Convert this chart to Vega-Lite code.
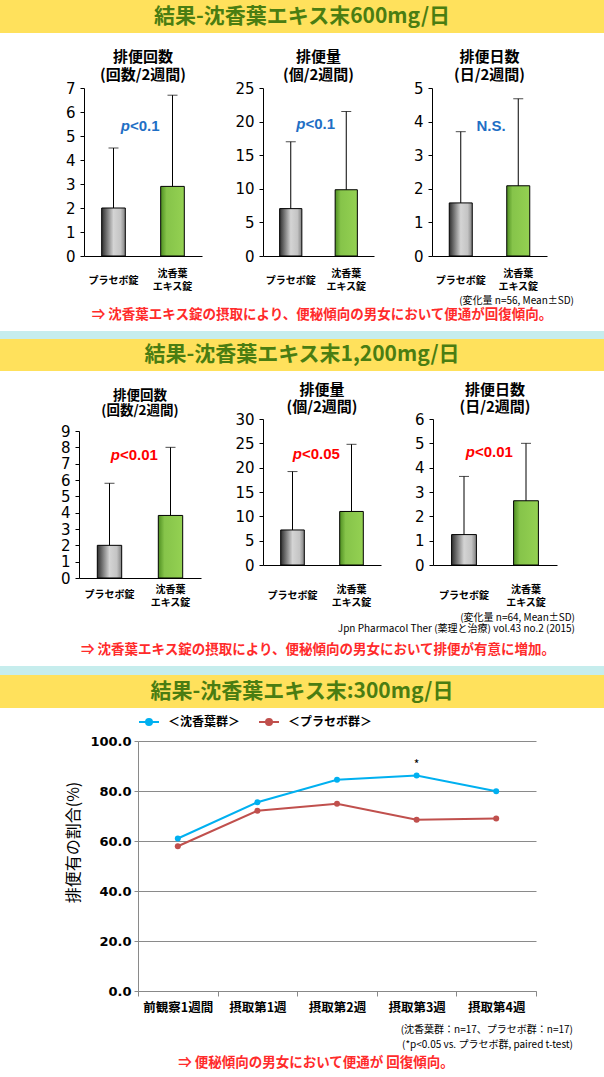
{
 "$schema": "https://vega.github.io/schema/vega-lite/v6.json",
 "background": "#ffffff",
 "padding": 0,
 "spacing": 0,
 "resolve": {"legend": {"color": "independent"}},
 "config": {
  "view": {"stroke": null},
  "axisY": {"grid": false, "title": null, "domainColor": "#000", "tickColor": "#000", "tickSize": 4, "labelFont": "DejaVu Sans", "labelFontSize": 15, "labelColor": "#000", "labelPadding": 5, "labelOverlap": false, "labelFlush": false},
  "axisX": {"grid": false, "title": null, "labelAngle": 0, "domainColor": "#000", "ticks": false, "labelFont": "Noto Sans CJK JP", "labelFontSize": 10, "labelFontWeight": "bold", "labelColor": "#000", "labelBaseline": "middle", "labelLineHeight": 13},
  "title": {"font": "Noto Sans CJK JP", "fontSize": 15, "fontWeight": "bold", "color": "#000", "lineHeight": 18, "offset": -2, "frame": "group", "anchor": "middle"},
  "text": {"font": "Noto Sans CJK JP"}
 },
 "datasets": {
  "bars": [
   {"panel": "A1", "group": "プラセボ錠", "mean": 2.0, "upper": 4.5},
   {"panel": "A1", "group": "沈香葉エキス錠", "mean": 2.9, "upper": 6.7},
   {"panel": "A2", "group": "プラセボ錠", "mean": 7.05, "upper": 17.0},
   {"panel": "A2", "group": "沈香葉エキス錠", "mean": 9.86, "upper": 21.5},
   {"panel": "A3", "group": "プラセボ錠", "mean": 1.58, "upper": 3.7},
   {"panel": "A3", "group": "沈香葉エキス錠", "mean": 2.09, "upper": 4.68},
   {"panel": "B1", "group": "プラセボ錠", "mean": 2.0, "upper": 5.8},
   {"panel": "B1", "group": "沈香葉エキス錠", "mean": 3.83, "upper": 8.0},
   {"panel": "B2", "group": "プラセボ錠", "mean": 7.2, "upper": 19.2},
   {"panel": "B2", "group": "沈香葉エキス錠", "mean": 11.0, "upper": 24.8},
   {"panel": "B3", "group": "プラセボ錠", "mean": 1.25, "upper": 3.64},
   {"panel": "B3", "group": "沈香葉エキス錠", "mean": 2.64, "upper": 5.0}
  ],
  "ann": [
   {"panel": "A1", "pre": "p", "label": "<0.1"},
   {"panel": "A2", "pre": "p", "label": "<0.1"},
   {"panel": "A3", "pre": "", "label": "N.S."},
   {"panel": "B1", "pre": "p", "label": "<0.01"},
   {"panel": "B2", "pre": "p", "label": "<0.05"},
   {"panel": "B3", "pre": "p", "label": "<0.01"}
  ],
  "line": [
   {"week": "前観察1週間", "group": "＜沈香葉群＞", "pct": 61.0},
   {"week": "摂取第1週", "group": "＜沈香葉群＞", "pct": 75.5},
   {"week": "摂取第2週", "group": "＜沈香葉群＞", "pct": 84.5},
   {"week": "摂取第3週", "group": "＜沈香葉群＞", "pct": 86.2, "sig": "*"},
   {"week": "摂取第4週", "group": "＜沈香葉群＞", "pct": 79.9},
   {"week": "前観察1週間", "group": "＜プラセボ群＞", "pct": 57.9},
   {"week": "摂取第1週", "group": "＜プラセボ群＞", "pct": 72.1},
   {"week": "摂取第2週", "group": "＜プラセボ群＞", "pct": 74.9},
   {"week": "摂取第3週", "group": "＜プラセボ群＞", "pct": 68.5},
   {"week": "摂取第4週", "group": "＜プラセボ群＞", "pct": 69.0}
  ]
 },
 "vconcat": [
  {"width": 604, "height": 33, "view": {"fill": "#ffe15c"},
   "data": {"values": [{"t": "結果-沈香葉エキス末600mg/日"}]},
   "mark": {"type": "text", "font": "Noto Sans CJK JP", "fontSize": 21, "fontWeight": "bold", "color": "#4a7d12", "baseline": "middle"},
   "encoding": {"text": {"field": "t"}}},
  {"width": 604, "height": 17, "data": {"values": []}, "mark": "point"},
  {"hconcat": [
    {"width": 65, "height": 1, "data": {"values": []}, "mark": "point"},
    {"width": 118, "height": 168,
     "title": {"text": ["排便回数", "(回数/2週間)"]},
     "layer": [
      {"data": {"name": "bars"}, "transform": [{"filter": "datum.panel == 'A1'"}],
       "encoding": {
        "x": {"field": "group", "type": "nominal", "sort": ["プラセボ錠", "沈香葉エキス錠"], "scale": {"paddingInner": 0, "paddingOuter": 0}, "axis": {"labelPadding": {"condition": {"test": "datum.value == 'プラセボ錠'", "value": 24}, "value": 17}, "labelExpr": "datum.value == '沈香葉エキス錠' ? ['沈香葉', 'エキス錠'] : datum.value"}},
        "y": {"field": "mean", "type": "quantitative", "scale": {"domain": [0, 7], "nice": false}, "axis": {"values": [0, 1, 2, 3, 4, 5, 6, 7]}}
       },
       "layer": [
        {"mark": {"type": "bar", "width": {"band": 0.4}, "stroke": "#000", "strokeWidth": 1},
         "encoding": {"fill": {"condition": {"test": "datum.group == 'プラセボ錠'", "value": {"gradient": "linear", "x1": 0, "x2": 1, "y1": 0, "y2": 0, "stops": [{"offset": 0, "color": "#2e2e2e"}, {"offset": 0.5, "color": "#d4d4d4"}, {"offset": 0.8, "color": "#c4c4c4"}, {"offset": 1, "color": "#808080"}]}}, "value": {"gradient": "linear", "x1": 0, "x2": 1, "y1": 0, "y2": 0, "stops": [{"offset": 0, "color": "#4f8f22"}, {"offset": 0.25, "color": "#86c44a"}, {"offset": 1, "color": "#94d152"}]}}}},
        {"mark": {"type": "rule", "color": "#000", "strokeWidth": 1}, "encoding": {"y2": {"field": "upper"}}},
        {"mark": {"type": "tick", "color": "#000", "thickness": 1, "size": 10}, "encoding": {"y": {"field": "upper", "type": "quantitative"}}}
       ]},
      {"data": {"name": "ann"}, "transform": [{"filter": "datum.panel == 'A1'"}], "mark": {"type": "text", "align": "right", "baseline": "middle", "dx": -13, "dy": -46, "font": "Liberation Sans", "fontSize": 15, "fontWeight": "bold", "fontStyle": "italic", "color": "#1f6fc5"}, "encoding": {"text": {"field": "pre"}}},
      {"data": {"name": "ann"}, "transform": [{"filter": "datum.panel == 'A1'"}], "mark": {"type": "text", "align": "left", "baseline": "middle", "dx": -13, "dy": -46, "font": "Liberation Sans", "fontSize": 15, "fontWeight": "bold", "color": "#1f6fc5"}, "encoding": {"text": {"field": "label"}}}
     ]},
    {"width": 32, "height": 1, "data": {"values": []}, "mark": "point"},
    {"width": 111, "height": 168,
     "title": {"text": ["排便量", "(個/2週間)"]},
     "layer": [
      {"data": {"name": "bars"}, "transform": [{"filter": "datum.panel == 'A2'"}],
       "encoding": {
        "x": {"field": "group", "type": "nominal", "sort": ["プラセボ錠", "沈香葉エキス錠"], "scale": {"paddingInner": 0, "paddingOuter": 0}, "axis": {"labelPadding": {"condition": {"test": "datum.value == 'プラセボ錠'", "value": 24}, "value": 17}, "labelExpr": "datum.value == '沈香葉エキス錠' ? ['沈香葉', 'エキス錠'] : datum.value"}},
        "y": {"field": "mean", "type": "quantitative", "scale": {"domain": [0, 25], "nice": false}, "axis": {"values": [0, 5, 10, 15, 20, 25]}}
       },
       "layer": [
        {"mark": {"type": "bar", "width": {"band": 0.4}, "stroke": "#000", "strokeWidth": 1},
         "encoding": {"fill": {"condition": {"test": "datum.group == 'プラセボ錠'", "value": {"gradient": "linear", "x1": 0, "x2": 1, "y1": 0, "y2": 0, "stops": [{"offset": 0, "color": "#2e2e2e"}, {"offset": 0.5, "color": "#d4d4d4"}, {"offset": 0.8, "color": "#c4c4c4"}, {"offset": 1, "color": "#808080"}]}}, "value": {"gradient": "linear", "x1": 0, "x2": 1, "y1": 0, "y2": 0, "stops": [{"offset": 0, "color": "#4f8f22"}, {"offset": 0.25, "color": "#86c44a"}, {"offset": 1, "color": "#94d152"}]}}}},
        {"mark": {"type": "rule", "color": "#000", "strokeWidth": 1}, "encoding": {"y2": {"field": "upper"}}},
        {"mark": {"type": "tick", "color": "#000", "thickness": 1, "size": 10}, "encoding": {"y": {"field": "upper", "type": "quantitative"}}}
       ]},
      {"data": {"name": "ann"}, "transform": [{"filter": "datum.panel == 'A2'"}], "mark": {"type": "text", "align": "right", "baseline": "middle", "dx": -13, "dy": -48, "font": "Liberation Sans", "fontSize": 15, "fontWeight": "bold", "fontStyle": "italic", "color": "#1f6fc5"}, "encoding": {"text": {"field": "pre"}}},
      {"data": {"name": "ann"}, "transform": [{"filter": "datum.panel == 'A2'"}], "mark": {"type": "text", "align": "left", "baseline": "middle", "dx": -13, "dy": -48, "font": "Liberation Sans", "fontSize": 15, "fontWeight": "bold", "color": "#1f6fc5"}, "encoding": {"text": {"field": "label"}}}
     ]},
    {"width": 39, "height": 1, "data": {"values": []}, "mark": "point"},
    {"width": 115, "height": 168,
     "title": {"text": ["排便日数", "(日/2週間)"]},
     "layer": [
      {"data": {"name": "bars"}, "transform": [{"filter": "datum.panel == 'A3'"}],
       "encoding": {
        "x": {"field": "group", "type": "nominal", "sort": ["プラセボ錠", "沈香葉エキス錠"], "scale": {"paddingInner": 0, "paddingOuter": 0}, "axis": {"labelPadding": {"condition": {"test": "datum.value == 'プラセボ錠'", "value": 24}, "value": 17}, "labelExpr": "datum.value == '沈香葉エキス錠' ? ['沈香葉', 'エキス錠'] : datum.value"}},
        "y": {"field": "mean", "type": "quantitative", "scale": {"domain": [0, 5], "nice": false}, "axis": {"values": [0, 1, 2, 3, 4, 5]}}
       },
       "layer": [
        {"mark": {"type": "bar", "width": {"band": 0.4}, "stroke": "#000", "strokeWidth": 1},
         "encoding": {"fill": {"condition": {"test": "datum.group == 'プラセボ錠'", "value": {"gradient": "linear", "x1": 0, "x2": 1, "y1": 0, "y2": 0, "stops": [{"offset": 0, "color": "#2e2e2e"}, {"offset": 0.5, "color": "#d4d4d4"}, {"offset": 0.8, "color": "#c4c4c4"}, {"offset": 1, "color": "#808080"}]}}, "value": {"gradient": "linear", "x1": 0, "x2": 1, "y1": 0, "y2": 0, "stops": [{"offset": 0, "color": "#4f8f22"}, {"offset": 0.25, "color": "#86c44a"}, {"offset": 1, "color": "#94d152"}]}}}},
        {"mark": {"type": "rule", "color": "#000", "strokeWidth": 1}, "encoding": {"y2": {"field": "upper"}}},
        {"mark": {"type": "tick", "color": "#000", "thickness": 1, "size": 10}, "encoding": {"y": {"field": "upper", "type": "quantitative"}}}
       ]},
      {"data": {"name": "ann"}, "transform": [{"filter": "datum.panel == 'A3'"}], "mark": {"type": "text", "align": "right", "baseline": "middle", "dx": -13, "dy": -46, "font": "Liberation Sans", "fontSize": 15, "fontWeight": "bold", "fontStyle": "italic", "color": "#1f6fc5"}, "encoding": {"text": {"field": "pre"}}},
      {"data": {"name": "ann"}, "transform": [{"filter": "datum.panel == 'A3'"}], "mark": {"type": "text", "align": "left", "baseline": "middle", "dx": -13, "dy": -46, "font": "Liberation Sans", "fontSize": 15, "fontWeight": "bold", "color": "#1f6fc5"}, "encoding": {"text": {"field": "label"}}}
     ]}
   ], "spacing": 0},
  {"width": 604, "height": 40,
   "layer": [
    {"data": {"values": [{"t": "(変化量 n=56, Mean±SD)"}]}, "mark": {"type": "text", "align": "right", "baseline": "middle", "dx": 272, "dy": -10, "fontSize": 10, "color": "#000"}, "encoding": {"text": {"field": "t"}}},
    {"data": {"values": [{"t": "⇒ 沈香葉エキス錠の摂取により、便秘傾向の男女において便通が回復傾向。"}]}, "mark": {"type": "text", "align": "center", "baseline": "middle", "dx": 20, "dy": 4, "fontSize": 13.5, "fontWeight": "bold", "color": "#ff2b2b"}, "encoding": {"text": {"field": "t"}}}
   ]},
  {"width": 604, "height": 8, "view": {"fill": "#c6eded"}, "data": {"values": []}, "mark": "point"},
  {"width": 604, "height": 32, "view": {"fill": "#ffe15c"},
   "data": {"values": [{"t": "結果-沈香葉エキス末1,200mg/日"}]},
   "mark": {"type": "text", "font": "Noto Sans CJK JP", "fontSize": 21, "fontWeight": "bold", "color": "#4a7d12", "baseline": "middle"},
   "encoding": {"text": {"field": "t"}}},
  {"width": 604, "height": 12, "data": {"values": []}, "mark": "point"},
  {"hconcat": [
    {"width": 60, "height": 1, "data": {"values": []}, "mark": "point"},
    {"width": 122, "height": 159,
     "title": {"text": ["排便回数", "(回数/2週間)"], "fontSize": 13.5, "lineHeight": 14.5, "offset": 2},
     "layer": [
      {"data": {"name": "bars"}, "transform": [{"filter": "datum.panel == 'B1'"}],
       "encoding": {
        "x": {"field": "group", "type": "nominal", "sort": ["プラセボ錠", "沈香葉エキス錠"], "scale": {"paddingInner": 0, "paddingOuter": 0}, "axis": {"labelPadding": {"condition": {"test": "datum.value == 'プラセボ錠'", "value": 16}, "value": 11}, "labelExpr": "datum.value == '沈香葉エキス錠' ? ['沈香葉', 'エキス錠'] : datum.value"}},
        "y": {"field": "mean", "type": "quantitative", "scale": {"domain": [0, 9], "nice": false, "range": [159, 12]}, "axis": {"values": [0, 1, 2, 3, 4, 5, 6, 7, 8, 9]}}
       },
       "layer": [
        {"mark": {"type": "bar", "width": {"band": 0.4}, "stroke": "#000", "strokeWidth": 1},
         "encoding": {"fill": {"condition": {"test": "datum.group == 'プラセボ錠'", "value": {"gradient": "linear", "x1": 0, "x2": 1, "y1": 0, "y2": 0, "stops": [{"offset": 0, "color": "#2e2e2e"}, {"offset": 0.5, "color": "#d4d4d4"}, {"offset": 0.8, "color": "#c4c4c4"}, {"offset": 1, "color": "#808080"}]}}, "value": {"gradient": "linear", "x1": 0, "x2": 1, "y1": 0, "y2": 0, "stops": [{"offset": 0, "color": "#4f8f22"}, {"offset": 0.25, "color": "#86c44a"}, {"offset": 1, "color": "#94d152"}]}}}},
        {"mark": {"type": "rule", "color": "#000", "strokeWidth": 1}, "encoding": {"y2": {"field": "upper"}}},
        {"mark": {"type": "tick", "color": "#000", "thickness": 1, "size": 10}, "encoding": {"y": {"field": "upper", "type": "quantitative"}}}
       ]},
      {"data": {"name": "ann"}, "transform": [{"filter": "datum.panel == 'B1'"}], "mark": {"type": "text", "align": "right", "baseline": "middle", "dx": -20, "dy": -44, "font": "Liberation Sans", "fontSize": 15, "fontWeight": "bold", "fontStyle": "italic", "color": "#ff0000"}, "encoding": {"text": {"field": "pre"}}},
      {"data": {"name": "ann"}, "transform": [{"filter": "datum.panel == 'B1'"}], "mark": {"type": "text", "align": "left", "baseline": "middle", "dx": -20, "dy": -44, "font": "Liberation Sans", "fontSize": 15, "fontWeight": "bold", "color": "#ff0000"}, "encoding": {"text": {"field": "label"}}}
     ]},
    {"width": 33, "height": 1, "data": {"values": []}, "mark": "point"},
    {"width": 118, "height": 146,
     "title": {"text": ["排便量", "(個/2週間)"], "lineHeight": 17, "offset": -3},
     "layer": [
      {"data": {"name": "bars"}, "transform": [{"filter": "datum.panel == 'B2'"}],
       "encoding": {
        "x": {"field": "group", "type": "nominal", "sort": ["プラセボ錠", "沈香葉エキス錠"], "scale": {"paddingInner": 0, "paddingOuter": 0}, "axis": {"labelPadding": {"condition": {"test": "datum.value == 'プラセボ錠'", "value": 30}, "value": 24}, "labelExpr": "datum.value == '沈香葉エキス錠' ? ['沈香葉', 'エキス錠'] : datum.value"}},
        "y": {"field": "mean", "type": "quantitative", "scale": {"domain": [0, 30], "nice": false}, "axis": {"values": [0, 5, 10, 15, 20, 25, 30]}}
       },
       "layer": [
        {"mark": {"type": "bar", "width": {"band": 0.4}, "stroke": "#000", "strokeWidth": 1},
         "encoding": {"fill": {"condition": {"test": "datum.group == 'プラセボ錠'", "value": {"gradient": "linear", "x1": 0, "x2": 1, "y1": 0, "y2": 0, "stops": [{"offset": 0, "color": "#2e2e2e"}, {"offset": 0.5, "color": "#d4d4d4"}, {"offset": 0.8, "color": "#c4c4c4"}, {"offset": 1, "color": "#808080"}]}}, "value": {"gradient": "linear", "x1": 0, "x2": 1, "y1": 0, "y2": 0, "stops": [{"offset": 0, "color": "#4f8f22"}, {"offset": 0.25, "color": "#86c44a"}, {"offset": 1, "color": "#94d152"}]}}}},
        {"mark": {"type": "rule", "color": "#000", "strokeWidth": 1}, "encoding": {"y2": {"field": "upper"}}},
        {"mark": {"type": "tick", "color": "#000", "thickness": 1, "size": 10}, "encoding": {"y": {"field": "upper", "type": "quantitative"}}}
       ]},
      {"data": {"name": "ann"}, "transform": [{"filter": "datum.panel == 'B2'"}], "mark": {"type": "text", "align": "right", "baseline": "middle", "dx": -20, "dy": -38, "font": "Liberation Sans", "fontSize": 15, "fontWeight": "bold", "fontStyle": "italic", "color": "#ff0000"}, "encoding": {"text": {"field": "pre"}}},
      {"data": {"name": "ann"}, "transform": [{"filter": "datum.panel == 'B2'"}], "mark": {"type": "text", "align": "left", "baseline": "middle", "dx": -20, "dy": -38, "font": "Liberation Sans", "fontSize": 15, "fontWeight": "bold", "color": "#ff0000"}, "encoding": {"text": {"field": "label"}}}
     ]},
    {"width": 33, "height": 1, "data": {"values": []}, "mark": "point"},
    {"width": 124, "height": 146,
     "title": {"text": ["排便日数", "(日/2週間)"], "lineHeight": 17, "offset": -3},
     "layer": [
      {"data": {"name": "bars"}, "transform": [{"filter": "datum.panel == 'B3'"}],
       "encoding": {
        "x": {"field": "group", "type": "nominal", "sort": ["プラセボ錠", "沈香葉エキス錠"], "scale": {"paddingInner": 0, "paddingOuter": 0}, "axis": {"labelPadding": {"condition": {"test": "datum.value == 'プラセボ錠'", "value": 30}, "value": 24}, "labelExpr": "datum.value == '沈香葉エキス錠' ? ['沈香葉', 'エキス錠'] : datum.value"}},
        "y": {"field": "mean", "type": "quantitative", "scale": {"domain": [0, 6], "nice": false}, "axis": {"values": [0, 1, 2, 3, 4, 5, 6]}}
       },
       "layer": [
        {"mark": {"type": "bar", "width": {"band": 0.4}, "stroke": "#000", "strokeWidth": 1},
         "encoding": {"fill": {"condition": {"test": "datum.group == 'プラセボ錠'", "value": {"gradient": "linear", "x1": 0, "x2": 1, "y1": 0, "y2": 0, "stops": [{"offset": 0, "color": "#2e2e2e"}, {"offset": 0.5, "color": "#d4d4d4"}, {"offset": 0.8, "color": "#c4c4c4"}, {"offset": 1, "color": "#808080"}]}}, "value": {"gradient": "linear", "x1": 0, "x2": 1, "y1": 0, "y2": 0, "stops": [{"offset": 0, "color": "#4f8f22"}, {"offset": 0.25, "color": "#86c44a"}, {"offset": 1, "color": "#94d152"}]}}}},
        {"mark": {"type": "rule", "color": "#000", "strokeWidth": 1}, "encoding": {"y2": {"field": "upper"}}},
        {"mark": {"type": "tick", "color": "#000", "thickness": 1, "size": 10}, "encoding": {"y": {"field": "upper", "type": "quantitative"}}}
       ]},
      {"data": {"name": "ann"}, "transform": [{"filter": "datum.panel == 'B3'"}], "mark": {"type": "text", "align": "right", "baseline": "middle", "dx": -20, "dy": -40, "font": "Liberation Sans", "fontSize": 15, "fontWeight": "bold", "fontStyle": "italic", "color": "#ff0000"}, "encoding": {"text": {"field": "pre"}}},
      {"data": {"name": "ann"}, "transform": [{"filter": "datum.panel == 'B3'"}], "mark": {"type": "text", "align": "left", "baseline": "middle", "dx": -20, "dy": -40, "font": "Liberation Sans", "fontSize": 15, "fontWeight": "bold", "color": "#ff0000"}, "encoding": {"text": {"field": "label"}}}
     ]}
   ], "spacing": 0},
  {"width": 604, "height": 59,
   "layer": [
    {"data": {"values": [{"t": "(変化量 n=64, Mean±SD)"}]}, "mark": {"type": "text", "align": "right", "baseline": "middle", "dx": 273, "dy": -19, "fontSize": 10, "color": "#000"}, "encoding": {"text": {"field": "t"}}},
    {"data": {"values": [{"t": "Jpn Pharmacol Ther (薬理と治療) vol.43 no.2 (2015)"}]}, "mark": {"type": "text", "align": "right", "baseline": "middle", "dx": 273, "dy": -8, "fontSize": 10, "color": "#000"}, "encoding": {"text": {"field": "t"}}},
    {"data": {"values": [{"t": "⇒ 沈香葉エキス錠の摂取により、便秘傾向の男女において排便が有意に増加。"}]}, "mark": {"type": "text", "align": "center", "baseline": "middle", "dx": 16, "dy": 13, "fontSize": 13.5, "fontWeight": "bold", "color": "#ff2b2b"}, "encoding": {"text": {"field": "t"}}}
   ]},
  {"width": 604, "height": 9, "view": {"fill": "#c6eded"}, "data": {"values": []}, "mark": "point"},
  {"width": 604, "height": 33, "view": {"fill": "#ffe15c"},
   "data": {"values": [{"t": "結果-沈香葉エキス末:300mg/日"}]},
   "mark": {"type": "text", "font": "Noto Sans CJK JP", "fontSize": 21, "fontWeight": "bold", "color": "#4a7d12", "baseline": "middle"},
   "encoding": {"text": {"field": "t"}}},
  {"width": 604, "height": 3, "data": {"values": []}, "mark": "point"},
  {"hconcat": [
    {"width": 65, "height": 1, "data": {"values": []}, "mark": "point"},
    {"width": 398, "height": 250,
     "data": {"name": "line"},
     "encoding": {
      "x": {"field": "week", "type": "ordinal", "sort": ["前観察1週間", "摂取第1週", "摂取第2週", "摂取第3週", "摂取第4週"], "scale": {"type": "band", "paddingInner": 0, "paddingOuter": 0}, "bandPosition": 0.5,
            "axis": {"labelFontSize": 12.5, "labelBaseline": "top", "labelPadding": 5, "ticks": true, "tickBand": "extent", "tickSize": 5, "tickColor": "#888888", "domainColor": "#888888"}},
      "y": {"field": "pct", "type": "quantitative", "scale": {"domain": [0, 100], "nice": false},
            "axis": {"values": [0, 20, 40, 60, 80, 100], "format": ".1f", "grid": true, "gridColor": "#8a8a8a", "domainColor": "#8a8a8a", "tickColor": "#8a8a8a", "tickSize": 4, "labelFont": "DejaVu Sans", "labelFontWeight": "bold", "labelFontSize": 13, "labelPadding": 3, "title": "排便有の割合(%)", "titleFont": "Noto Sans CJK JP", "titleFontSize": 16, "titleFontWeight": "normal", "titleColor": "#000", "titlePadding": 8, "titleY": 101}},
      "color": {"field": "group", "type": "nominal", "scale": {"domain": ["＜沈香葉群＞", "＜プラセボ群＞"], "range": ["#00b0f0", "#c0504d"]},
                "legend": {"orient": "top", "direction": "horizontal", "title": null, "labelFont": "Noto Sans CJK JP", "labelFontSize": 12, "labelFontWeight": "bold", "labelColor": "#000", "symbolType": "M-1,0L1,0M-0.3,0A0.3,0.3 0 1,0 0.3,0A0.3,0.3 0 1,0 -0.3,0", "symbolSize": 400, "symbolStrokeWidth": 2, "columnPadding": 14, "offset": 12, "labelOffset": 8, "padding": 0}}
     },
     "layer": [
      {"mark": {"type": "line", "strokeWidth": 2}},
      {"mark": {"type": "point", "filled": true, "size": 36, "opacity": 1}},
      {"transform": [{"filter": "datum.sig"}], "mark": {"type": "text", "dy": -11, "fontSize": 12, "baseline": "middle"}, "encoding": {"text": {"field": "sig"}, "color": {"value": "#000"}}}
     ]}
   ], "spacing": 0, "resolve": {"legend": {"color": "independent"}}},
  {"width": 604, "height": 65,
   "layer": [
    {"data": {"values": [{"t": "(沈香葉群：n=17、プラセボ群：n=17)"}]}, "mark": {"type": "text", "align": "right", "baseline": "middle", "dx": 271, "dy": -17, "fontSize": 10, "color": "#000"}, "encoding": {"text": {"field": "t"}}},
    {"data": {"values": [{"t": "(*p<0.05 vs. プラセボ群, paired t-test)"}]}, "mark": {"type": "text", "align": "right", "baseline": "middle", "dx": 271, "dy": -2, "fontSize": 10, "color": "#000"}, "encoding": {"text": {"field": "t"}}},
    {"data": {"values": [{"t": "⇒ 便秘傾向の男女において便通が 回復傾向。"}]}, "mark": {"type": "text", "align": "center", "baseline": "middle", "dx": 14, "dy": 16, "fontSize": 13.5, "fontWeight": "bold", "color": "#ff2b2b"}, "encoding": {"text": {"field": "t"}}}
   ]}
 ]
}
